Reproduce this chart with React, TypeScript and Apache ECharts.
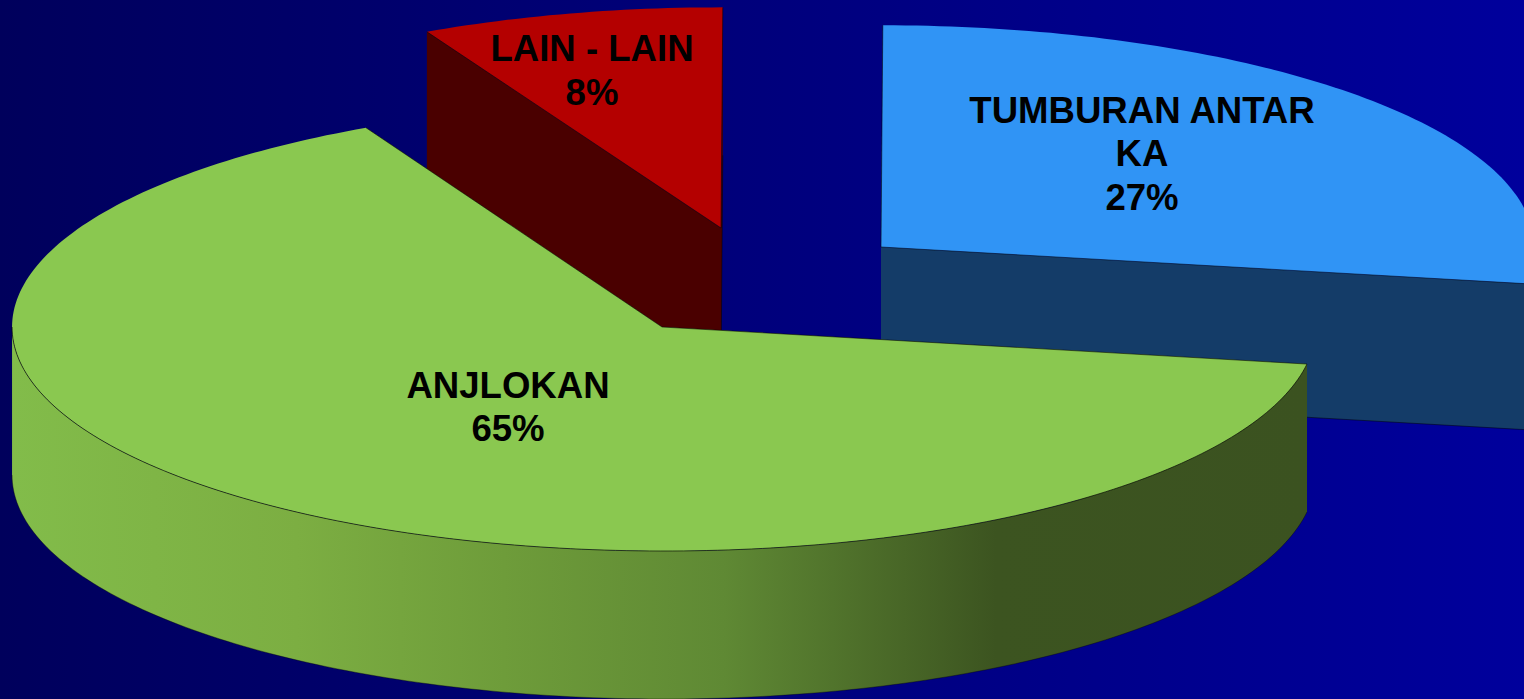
import React, { useEffect, useRef } from "react";
import * as echarts from "echarts";

// Painted back to front.
const categories = ["LAIN - LAIN", "TUMBURAN ANTAR\nKA", "ANJLOKAN"];
const percentLabels = ["8%", "27%", "65%"];
// Share of the ellipse each slice actually covers on screen (%).
const sliceShares = [7.6, 27.6, 64.8];

const topColors = ["#B40000", "#3094F5", "#8AC850"];
const wallColors = ["#4A0000", "#143C68", "#3B5220"];

const START_DEG = -117.2;
const RX = 650;
const RY = 224;
const centers = [
  { x: 721, y: 228, apexX: 721, sx: 0.99, sy: 0.985, depth: 148 },
  { x: 881, y: 247, apexX: 881, sx: 1.005, sy: 0.99, depth: 146 },
  { x: 664, y: 327, apexX: 662, sx: 1.003, sy: 1, depth: 148 },
];
const labelPos = [
  [592, 70.5],
  [1142, 153.5],
  [508, 407],
];
const rad = (d: number) => (d * Math.PI) / 180;

function renderSlice(params: any, api: any) {
  const i = params.dataIndex;
  const before = sliceShares.slice(0, i).reduce((a, b) => a + b, 0);
  const a0 = START_DEG + (before / 100) * 360;
  const a1 = a0 + (api.value(0) / 100) * 360;
  const c = centers[i];
  const D = c.depth;
  const pt = (deg: number, dy = 0): number[] => [
    c.x + RX * c.sx * Math.cos(rad(deg)),
    c.y + RY * c.sy * Math.sin(rad(deg)) + dy,
  ];
  const arc = (from: number, to: number, dy = 0) => {
    const out: number[][] = [];
    const n = Math.max(2, Math.ceil(Math.abs(to - from)));
    for (let k = 0; k <= n; k++) out.push(pt(from + ((to - from) * k) / n, dy));
    return out;
  };
  const line = (alpha: number, width = 0.8) => ({
    fill: "none",
    stroke: `rgba(0,0,0,${alpha})`,
    lineWidth: width,
  });
  const apex = [c.apexX, c.y];
  const children: any[] = [];
  // radial cut faces
  [a0, a1].forEach((a) => {
    children.push({
      type: "polygon",
      shape: { points: [apex, pt(a), pt(a, D), [c.apexX, c.y + D]] },
      style: { fill: wallColors[i] },
    });
  });
  // bottom edge of the cut face on the visible side
  children.push({
    type: "polyline",
    shape: { points: [pt(a1, D), [c.apexX, c.y + D]] },
    style: line(0.6),
  });
  // outer rim, only the part facing the viewer
  const r0 = Math.max(a0, 0);
  const r1 = Math.min(a1, 180);
  const hasRim = r1 > r0;
  if (hasRim) {
    const fill =
      i === 2
        ? new echarts.graphic.LinearGradient(
            12, 0, 1307,
            0,
            [
              { offset: 0, color: "#82BC4A" },
              { offset: 0.22, color: "#7CAE42" },
              { offset: 0.38, color: "#6E9C3A" },
              { offset: 0.55, color: "#5F8934" },
              { offset: 0.76, color: "#3C5420" },
              { offset: 1, color: "#3B5220" },
            ],
            true
          )
        : wallColors[i];
    children.push({
      type: "polygon",
      shape: { points: [...arc(r0, r1), ...arc(r1, r0, D)] },
      style: { fill },
    });
    children.push({
      type: "polyline",
      shape: { points: arc(r0, r1, D) },
      style: line(0.45),
    });
  }
  // top face
  children.push({
    type: "polygon",
    shape: { points: [apex, ...arc(a0, a1)] },
    style: { fill: topColors[i] },
  });
  // top-face edges: the radial cuts, and the rim arc where it faces the viewer
  children.push({
    type: "polyline",
    shape: { points: [pt(a0), apex, pt(a1)] },
    style: line(0.65),
  });
  if (hasRim) {
    children.push({
      type: "polyline",
      shape: { points: arc(r0, r1) },
      style: line(0.8),
    });
  }
  // label
  children.push({
    type: "text",
    style: {
      text: `${categories[i]}\n${percentLabels[i]}`,
      x: labelPos[i][0],
      y: labelPos[i][1],
      align: "center",
      verticalAlign: "middle",
      font: 'bold 36.6px "Liberation Sans"',
      lineHeight: 43.5,
      fill: "#000",
    },
  });
  return { type: "group", children };
}

export default function App() {
  const ref = useRef<HTMLDivElement>(null);
  useEffect(() => {
    document.body.style.margin = "0";
    document.body.style.overflow = "hidden";
    const chart = echarts.init(ref.current!, undefined, { renderer: "svg" });
    chart.setOption({
      animation: false,
      backgroundColor: new echarts.graphic.LinearGradient(0, 0, 1, 0, [
        { offset: 0, color: "#00005C" },
        { offset: 1, color: "#00009C" },
      ]),
      series: [
        {
          type: "custom",
          coordinateSystem: "none",
          silent: true,
          clip: false,
          renderItem: renderSlice,
          data: sliceShares.map((v, i) => ({ name: categories[i], value: [v] })),
        },
      ],
    });
    return () => chart.dispose();
  }, []);
  return <div ref={ref} style={{ width: 1524, height: 699 }} />;
}
